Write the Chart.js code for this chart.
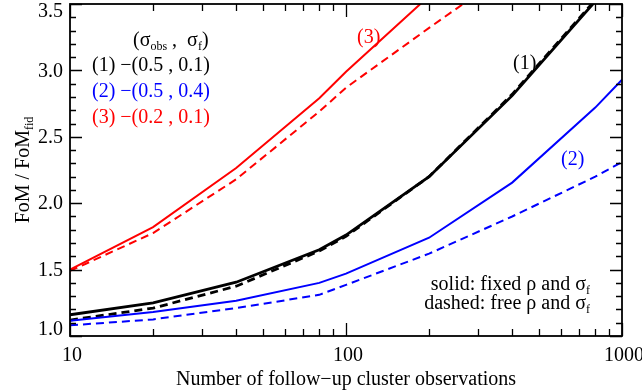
<!DOCTYPE html>
<html>
<head>
<meta charset="utf-8">
<script src="https://cdn.jsdelivr.net/npm/chart.js@4.4.1/dist/chart.umd.min.js"></script>
<style>
html,body{margin:0;padding:0;background:#fff;}
#wrap{width:642px;height:391px;}
</style>
</head>
<body>
<div id="wrap"><canvas id="c" width="642" height="391"></canvas></div>
<script>
// ---- data ----
const nObs = [10, 20, 40, 80, 100, 200, 400, 800, 1000];
const fixed1 = [1.16, 1.25, 1.405, 1.65, 1.76, 2.20, 2.81, 3.52, 3.76];
const free1  = [1.12, 1.21, 1.375, 1.64, 1.75, 2.20, 2.82, 3.53, 3.77];
const fixed2 = [1.115, 1.18, 1.265, 1.40, 1.47, 1.74, 2.155, 2.72, 2.93];
const free2  = [1.08, 1.125, 1.21, 1.31, 1.385, 1.62, 1.90, 2.20, 2.31];
const fixed3 = [1.50, 1.82, 2.265, 2.79, 2.99, 3.56, null, null, null];
const free3  = [1.49, 1.775, 2.18, 2.69, 2.87, 3.32, 3.76, null, null];

const xMajor = [10, 100, 1000];
const xMinor = [20,30,40,50,60,70,80,90,200,300,400,500,600,700,800,900];
const yMajor = [1.0, 1.5, 2.0, 2.5, 3.0, 3.5];
const yMinor = [1.1,1.2,1.3,1.4,1.6,1.7,1.8,1.9,2.1,2.2,2.3,2.4,2.6,2.7,2.8,2.9,3.1,3.2,3.3,3.4];
const xTickLabels = ['10', '100', '1000'];
const yTickLabels = ['1.0', '1.5', '2.0', '2.5', '3.0', '3.5'];

const xTitle = 'Number of follow\u2212up cluster observations';

const FONT = '"Liberation Serif", "Times New Roman", serif';
const FS = 20;

function pts(arr){ return nObs.map((n,i)=>({x:n, y:arr[i]})); }

function ds(arr, color, dashed, width){
  return {data: pts(arr), borderColor: color, borderWidth: width,
          borderDash: dashed ? [8,5] : [], pointRadius: 0, tension: 0,
          fill: false, spanGaps: false};
}

// draw a rich text run: parts = [[text, isSub], ...]
function drawRich(ctx, x, y, parts, color, align, size){
  size = size || FS;
  const subSize = Math.round(size*0.62);
  let w = 0;
  parts.forEach(p=>{
    ctx.font = (p[1]?subSize:size) + 'px ' + FONT;
    w += ctx.measureText(p[0]).width;
  });
  let cx = align === 'right' ? x - w : (align === 'center' ? x - w/2 : x);
  ctx.fillStyle = color;
  ctx.textAlign = 'left';
  ctx.textBaseline = 'alphabetic';
  parts.forEach(p=>{
    ctx.font = (p[1]?subSize:size) + 'px ' + FONT;
    ctx.fillText(p[0], cx, y + (p[1]?4:0));
    cx += ctx.measureText(p[0]).width;
  });
  return w;
}

const decor = {
  id: 'decor',
  afterDatasetsDraw(chart){
    const ctx = chart.ctx;
    const a = chart.chartArea;
    const xs = chart.scales.x, ys = chart.scales.y;
    ctx.save();
    ctx.strokeStyle = '#000';
    ctx.lineWidth = 1.8;
    ctx.strokeRect(a.left, a.top, a.right - a.left, a.bottom - a.top);
    ctx.lineWidth = 1.3;
    ctx.beginPath();
    const tick = (vals, len) => {
      vals.forEach(v=>{
        const px = Math.round(xs.getPixelForValue(v)) + 0.5;
        ctx.moveTo(px, a.bottom); ctx.lineTo(px, a.bottom - len);
        ctx.moveTo(px, a.top); ctx.lineTo(px, a.top + len);
      });
    };
    const ytick = (vals, len) => {
      vals.forEach(v=>{
        const py = Math.round(ys.getPixelForValue(v)) + 0.5;
        ctx.moveTo(a.left, py); ctx.lineTo(a.left + len, py);
        ctx.moveTo(a.right, py); ctx.lineTo(a.right - len, py);
      });
    };
    tick(xMajor, 13); tick(xMinor, 7);
    ytick(yMajor, 12); ytick(yMinor, 6);
    ctx.stroke();

    // tick labels
    ctx.fillStyle = '#000';
    ctx.font = FS + 'px ' + FONT;
    ctx.textAlign = 'right';
    ctx.textBaseline = 'middle';
    yMajor.forEach((v,i)=>{
      let py = ys.getPixelForValue(v);
      py = Math.max(a.top + 7, Math.min(a.bottom - 7, py));
      ctx.fillText(yTickLabels[i], a.left - 7, py + 1);
    });
    ctx.textAlign = 'center';
    ctx.textBaseline = 'alphabetic';
    xMajor.forEach((v,i)=>{
      ctx.fillText(xTickLabels[i], xs.getPixelForValue(v) + 2, a.bottom + 25);
    });
    // x title
    ctx.fillText(xTitle, (a.left + a.right)/2, a.bottom + 49);
    // y title (rotated)
    ctx.save();
    ctx.translate(29, (a.top + a.bottom)/2);
    ctx.rotate(-Math.PI/2);
    drawRich(ctx, 0, 0, [['FoM / FoM', false], ['fid', true]], '#000', 'center');
    ctx.restore();

    // legend-like annotations
    drawRich(ctx, 133, 46, [['(\u03c3', false], ['obs', true], [' ,  \u03c3', false], ['f', true], [')', false]], '#000', 'left');
    drawRich(ctx, 92, 71, [['(1) \u2212(0.5 , 0.1)', false]], '#000', 'left');
    drawRich(ctx, 92, 97, [['(2) \u2212(0.5 , 0.4)', false]], '#0000ff', 'left');
    drawRich(ctx, 92, 123, [['(3) \u2212(0.2 , 0.1)', false]], '#ff0000', 'left');

    drawRich(ctx, 357, 43, [['(3)', false]], '#ff0000', 'left');
    drawRich(ctx, 513, 69, [['(1)', false]], '#000', 'left');
    drawRich(ctx, 561, 165, [['(2)', false]], '#0000ff', 'left');

    drawRich(ctx, 590, 290, [['solid: fixed \u03c1 and \u03c3', false], ['f', true]], '#000', 'right');
    drawRich(ctx, 590, 309, [['dashed: free \u03c1 and \u03c3', false], ['f', true]], '#000', 'right');
    ctx.restore();
  }
};

new Chart(document.getElementById('c'), {
  type: 'line',
  data: {
    datasets: [
      ds(free3, '#ff0000', true, 2),
      ds(fixed3, '#ff0000', false, 2),
      ds(free2, '#0000ff', true, 2),
      ds(fixed2, '#0000ff', false, 2),
      ds(free1, '#000000', true, 2.8),
      ds(fixed1, '#000000', false, 2.8)
    ]
  },
  options: {
    responsive: false,
    animation: false,
    devicePixelRatio: 1,
    layout: {padding: {left: 70, right: 20, top: 4, bottom: 55}},
    plugins: {legend: {display: false}, tooltip: {enabled: false}, title: {display: false}},
    scales: {
      x: {type: 'logarithmic', min: 10, max: 1000,
          ticks: {display: false}, grid: {display: false, drawTicks: false},
          border: {display: false}},
      y: {type: 'linear', min: 1.0, max: 3.5,
          ticks: {display: false}, grid: {display: false, drawTicks: false},
          border: {display: false}}
    }
  },
  plugins: [decor]
});
</script>
</body>
</html>
